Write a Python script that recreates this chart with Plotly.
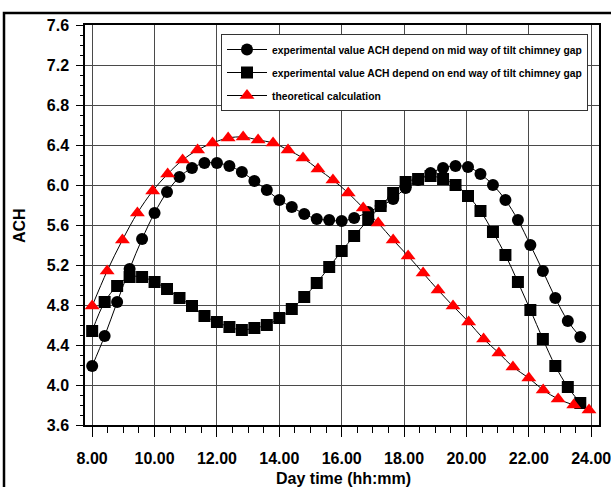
import plotly.graph_objects as go

# ---- data ----
time_exp = [8.0, 8.4, 8.8, 9.2, 9.6, 10.0, 10.4, 10.8, 11.2, 11.6, 12.0, 12.4, 12.8, 13.2,
            13.6, 14.0, 14.4, 14.8, 15.2, 15.6, 16.0, 16.4, 16.85, 17.25, 17.65, 18.05,
            18.45, 18.85, 19.25, 19.65, 20.05, 20.45, 20.85, 21.25, 21.65, 22.05, 22.45,
            22.85, 23.25, 23.65]
ach_mid = [4.19, 4.49, 4.83, 5.16, 5.46, 5.72, 5.93, 6.08, 6.17, 6.22, 6.22, 6.19, 6.13, 6.04,
           5.95, 5.85, 5.78, 5.71, 5.66, 5.65, 5.64, 5.67, 5.73, 5.79, 5.86, 5.97,
           6.05, 6.12, 6.17, 6.19, 6.18, 6.11, 6.00, 5.85, 5.65, 5.40, 5.14,
           4.87, 4.64, 4.48]
ach_end = [4.54, 4.83, 4.99, 5.08, 5.08, 5.03, 4.96, 4.87, 4.79, 4.69, 4.63, 4.58, 4.55, 4.57,
           4.60, 4.67, 4.76, 4.88, 5.02, 5.18, 5.34, 5.49, 5.65, 5.79, 5.92, 6.03,
           6.06, 6.09, 6.06, 6.00, 5.89, 5.74, 5.53, 5.30, 5.03, 4.75, 4.46,
           4.19, 3.98, 3.82]
time_theo = [8.0, 8.48, 8.97, 9.45, 9.94, 10.42, 10.90, 11.38, 11.86, 12.36, 12.84, 13.32,
             13.80, 14.28, 14.76, 15.24, 15.72, 16.21, 16.69, 17.17, 17.65, 18.13, 18.61,
             19.09, 19.57, 20.07, 20.55, 21.04, 21.49, 22.0, 22.46, 22.94, 23.44, 23.93]
ach_theo = [4.79, 5.14, 5.45, 5.72, 5.94, 6.11, 6.25, 6.35, 6.42, 6.47, 6.48, 6.45,
            6.42, 6.35, 6.27, 6.16, 6.05, 5.92, 5.77, 5.62, 5.45, 5.29, 5.12,
            4.95, 4.79, 4.63, 4.46, 4.32, 4.18, 4.07, 3.95, 3.86, 3.80, 3.75]

names = ["experimental value ACH depend on mid way of tilt chimney gap",
         "experimental value ACH depend on end way of tilt chimney gap",
         "theoretical calculation"]

FONT = "Liberation Sans, Arial, sans-serif"

# The figure is a bit wider than the 611 px window so that the last tick
# label ("24.00") is drawn centred on its tick and clipped by the window edge,
# as in the reference.
W, H = 640, 487
L, R, T, B = 85, W - 599, 25, 62
PW = W - L - R  # plot width in px
PH = H - T - B

fig = go.Figure()
fig.add_trace(go.Scatter(x=time_exp, y=ach_mid, name=names[0], mode="lines+markers",
                         line=dict(color="black", width=1, shape="spline"),
                         marker=dict(symbol="circle", size=12, color="black"),
                         legendgroup="a"))
fig.add_trace(go.Scatter(x=time_exp, y=ach_end, name=names[1], mode="lines+markers",
                         line=dict(color="black", width=1, shape="spline"),
                         marker=dict(symbol="square", size=12, color="black"),
                         legendgroup="b"))
fig.add_trace(go.Scatter(x=time_theo, y=ach_theo, name=names[2], mode="lines+markers",
                         line=dict(color="black", width=1, shape="spline"),
                         marker=dict(symbol="triangle-up", size=13, color="#ff0000"),
                         legendgroup="c"))

axis_common = dict(showline=True, linecolor="black", linewidth=1.5, mirror=True,
                   showgrid=True, gridcolor="#4a4a4a", gridwidth=1, zeroline=False,
                   ticks="outside", tickcolor="black",
                   tickfont=dict(family=FONT, size=16, color="black", weight="bold"))

def px_x(px):
    return (px - L) / PW

def px_y(py):
    return (H - B - py) / PH

fig.update_layout(
    width=W, height=H,
    margin=dict(l=L, r=R, t=T, b=B),
    paper_bgcolor="white", plot_bgcolor="white",
    showlegend=True,
    legend=dict(x=px_x(221), y=px_y(34), xanchor="left", yanchor="top",
                bgcolor="white", bordercolor="#333333", borderwidth=1,
                font=dict(family=FONT, size=10.3, color="black", weight="bold"),
                tracegroupgap=4, itemwidth=40),
    xaxis=dict(range=[7.77, 24.25], tick0=8, dtick=2, tickformat=".2f",
               ticklen=10, tickwidth=1, ticklabelstandoff=8,
               minor=dict(tick0=8, dtick=0.5, ticks="outside", ticklen=6,
                          tickcolor="black", showgrid=False),
               **axis_common),
    yaxis=dict(range=[3.6, 7.6], tick0=3.6, dtick=0.4, tickformat=".1f",
               ticklen=7, tickwidth=1, ticklabelstandoff=4,
               minor=dict(tick0=3.6, dtick=0.1, ticks="outside", ticklen=3,
                          tickcolor="black", showgrid=False),
               **axis_common),
    annotations=[
        dict(text="ACH", xref="paper", yref="paper", x=px_x(20), y=px_y(226),
             showarrow=False, textangle=-90, xanchor="center", yanchor="middle",
             font=dict(family=FONT, size=16, color="black", weight="bold")),
        dict(text="Day time (hh:mm)", xref="paper", yref="paper",
             x=px_x(343.5), y=px_y(478),
             showarrow=False, xanchor="center", yanchor="middle",
             font=dict(family=FONT, size=16, color="black", weight="bold")),
    ],
    shapes=[
        dict(type="rect", xref="paper", yref="paper",
             x0=px_x(4), x1=px_x(625), y0=px_y(495), y1=px_y(13),
             line=dict(color="black", width=2.5), fillcolor="rgba(0,0,0,0)", layer="below"),
    ],
)

fig.write_html("out.html", config={"displayModeBar": False},
               post_script="document.body.style.margin='0';document.body.style.overflow='hidden';")
